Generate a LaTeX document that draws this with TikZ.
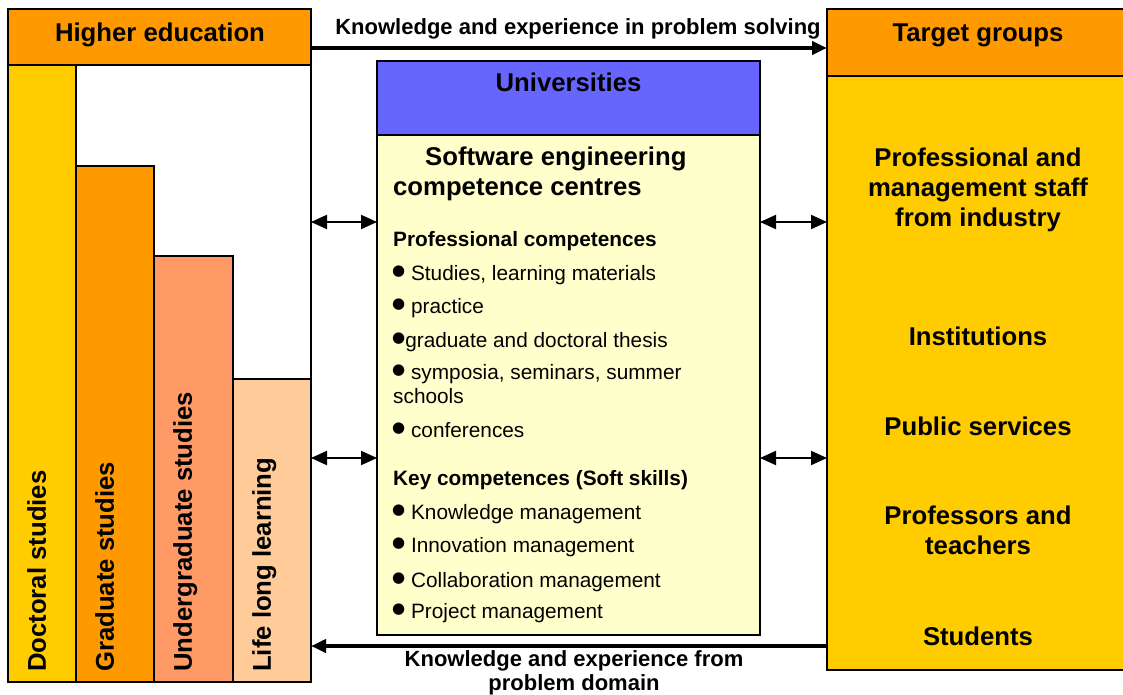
\documentclass[tikz,border=0pt]{standalone}
\usepackage{fontspec}
\setmainfont{Liberation Sans}
\newfontfamily\symfont{DejaVu Sans}
\usetikzlibrary{arrows.meta,positioning}

\definecolor{hdorange}{HTML}{FF9900}
\definecolor{hdyellow}{HTML}{FFCC00}
\definecolor{salmon}{HTML}{FF9966}
\definecolor{peach}{HTML}{FFCC99}
\definecolor{unblue}{HTML}{6666FF}
\definecolor{paleyel}{HTML}{FFFFCC}

\newcommand{\bigbf}{\fontsize{25.7}{30}\selectfont\bfseries}
\newcommand{\midbf}{\fontsize{22}{24}\selectfont\bfseries}
\newcommand{\smallrm}{\fontsize{20.8}{24}\selectfont}
\newcommand{\itm}{\raisebox{5pt}{{\symfont\fontsize{15}{15}\selectfont ●}}}

\tikzset{
    panel/.style={draw,line width=1.5pt,inner sep=0pt,outer sep=0pt,anchor=north west},
    bar/.style={draw,line width=1.5pt,inner sep=0pt,outer sep=0pt,anchor=south west},
    barlabel/.style={rotate=90,anchor=north west,inner sep=0pt,font=\bigbf},
    head/.style={font=\bigbf,anchor=base,inner sep=0pt},
    grp/.style={font=\bigbf,align=center,inner sep=0pt},
    sub/.style={font=\smallrm\bfseries,anchor=base west,inner sep=0pt},
    item/.style={font=\smallrm,anchor=base west,inner sep=0pt},
    flow/.style={line width=4pt,-{Triangle[length=15pt,width=13pt]}},
    link/.style={line width=2pt,{Triangle[length=16pt,width=14pt]}-{Triangle[length=16pt,width=14pt]}},
}

\begin{document}
\begin{tikzpicture}[x=1pt,y=-1pt]
    \useasboundingbox (0,0) rectangle (1123,695);

    % higher education
    \node[panel,fill=hdorange,minimum width=303pt,minimum height=56pt] (hedu) at (8,9) {};
    \node[head] (hedutxt) at (160,42) {Higher education};
    \node[panel,minimum width=303pt,minimum height=617pt] (heframe) at (hedu.south west) {};
    \node[bar,fill=hdyellow,minimum width=68pt,minimum height=617pt] (doct) at (heframe.south west) {};
    \node[bar,fill=hdorange,minimum width=78pt,minimum height=516pt] (grad) at (doct.south east) {};
    \node[bar,fill=salmon,minimum width=79pt,minimum height=426pt] (under) at (grad.south east) {};
    \node[bar,fill=peach,minimum width=78pt,minimum height=303pt] (life) at (under.south east) {};
    \node[barlabel] (docttxt) at ([xshift=19pt,yshift=10pt]doct.south west) {Doctoral studies};
    \node[barlabel] (gradtxt) at ([xshift=19pt,yshift=10pt]grad.south west) {Graduate studies};
    \node[barlabel] (undertxt) at ([xshift=19pt,yshift=10pt]under.south west) {Undergraduate studies};
    \node[barlabel] (lifetxt) at ([xshift=19pt,yshift=10pt]life.south west) {Life long learning};

    % universities
    \node[panel,fill=unblue,minimum width=383pt,minimum height=74pt] (univ) at (377,61) {};
    \node[head] (univtxt) at (univ.north |- 0,92) {Universities};
    \node[panel,fill=paleyel,minimum width=383pt,minimum height=500pt] (cc) at (univ.south west) {};
    \node[font=\bigbf,anchor=west,align=left,inner sep=0pt] (cctxt) at (393,174) {\hspace*{32pt}Software engineering\\competence centres};
    \node[sub] (proftxt) at (393,246) {Professional competences};
    \node[item] (prof1) at (392,280) {\itm\ Studies, learning materials};
    \node[item] (prof2) at (392,313) {\itm\ practice};
    \node[item] (prof3) at (392,347) {\itm graduate and doctoral thesis};
    \node[font=\smallrm,anchor=west,align=left,inner sep=0pt] (prof4) at (392,384.5) {\itm\ symposia, seminars, summer\\\hspace*{1pt}schools};
    \node[item] (prof5) at (392,437) {\itm\ conferences};
    \node[sub] (keytxt) at (393,485) {Key competences (Soft skills)};
    \node[item] (key1) at (392,519) {\itm\ Knowledge management};
    \node[item] (key2) at (392,552) {\itm\ Innovation management};
    \node[item] (key3) at (392,587) {\itm\ Collaboration management};
    \node[item] (key4) at (392,618) {\itm\ Project management};

    % target groups
    \node[panel,fill=hdorange,minimum width=310pt,minimum height=67pt] (tg) at (827,9) {};
    \node[head] (tgtxt) at (978,42) {Target groups};
    \node[panel,fill=hdyellow,minimum width=310pt,minimum height=594pt] (tgbody) at (tg.south west) {};
    \node[grp] (grp1) at (978,190) {Professional and\\management staff\\from industry};
    \node[head] (grp2) at (978,345) {Institutions};
    \node[head] (grp3) at (978,435) {Public services};
    \node[grp] (grp4) at (978,530) {Professors and\\teachers};
    \node[head] (grp5) at (978,645) {Students};

    % connectors
    \coordinate (toprow) at (0,48);
    \coordinate (row1) at (0,222);
    \coordinate (row2) at (0,458);
    \coordinate (botrow) at (0,646);

    \draw[flow] (hedu.east |- toprow) -- (tg.west |- toprow);
    \node[font=\midbf,anchor=base,inner sep=0pt] (toptxt) at (578,35) {Knowledge and experience in problem solving};
    \draw[flow] (tgbody.west |- botrow) -- (heframe.east |- botrow);
    \node[font=\midbf,align=center,inner sep=0pt] (bottxt) at (574,673) {Knowledge and experience from\\problem domain};

    \draw[link] (heframe.east |- row1) -- (cc.west |- row1);
    \draw[link] (heframe.east |- row2) -- (cc.west |- row2);
    \draw[link] (cc.east |- row1) -- (tgbody.west |- row1);
    \draw[link] (cc.east |- row2) -- (tgbody.west |- row2);
\end{tikzpicture}
\end{document}
